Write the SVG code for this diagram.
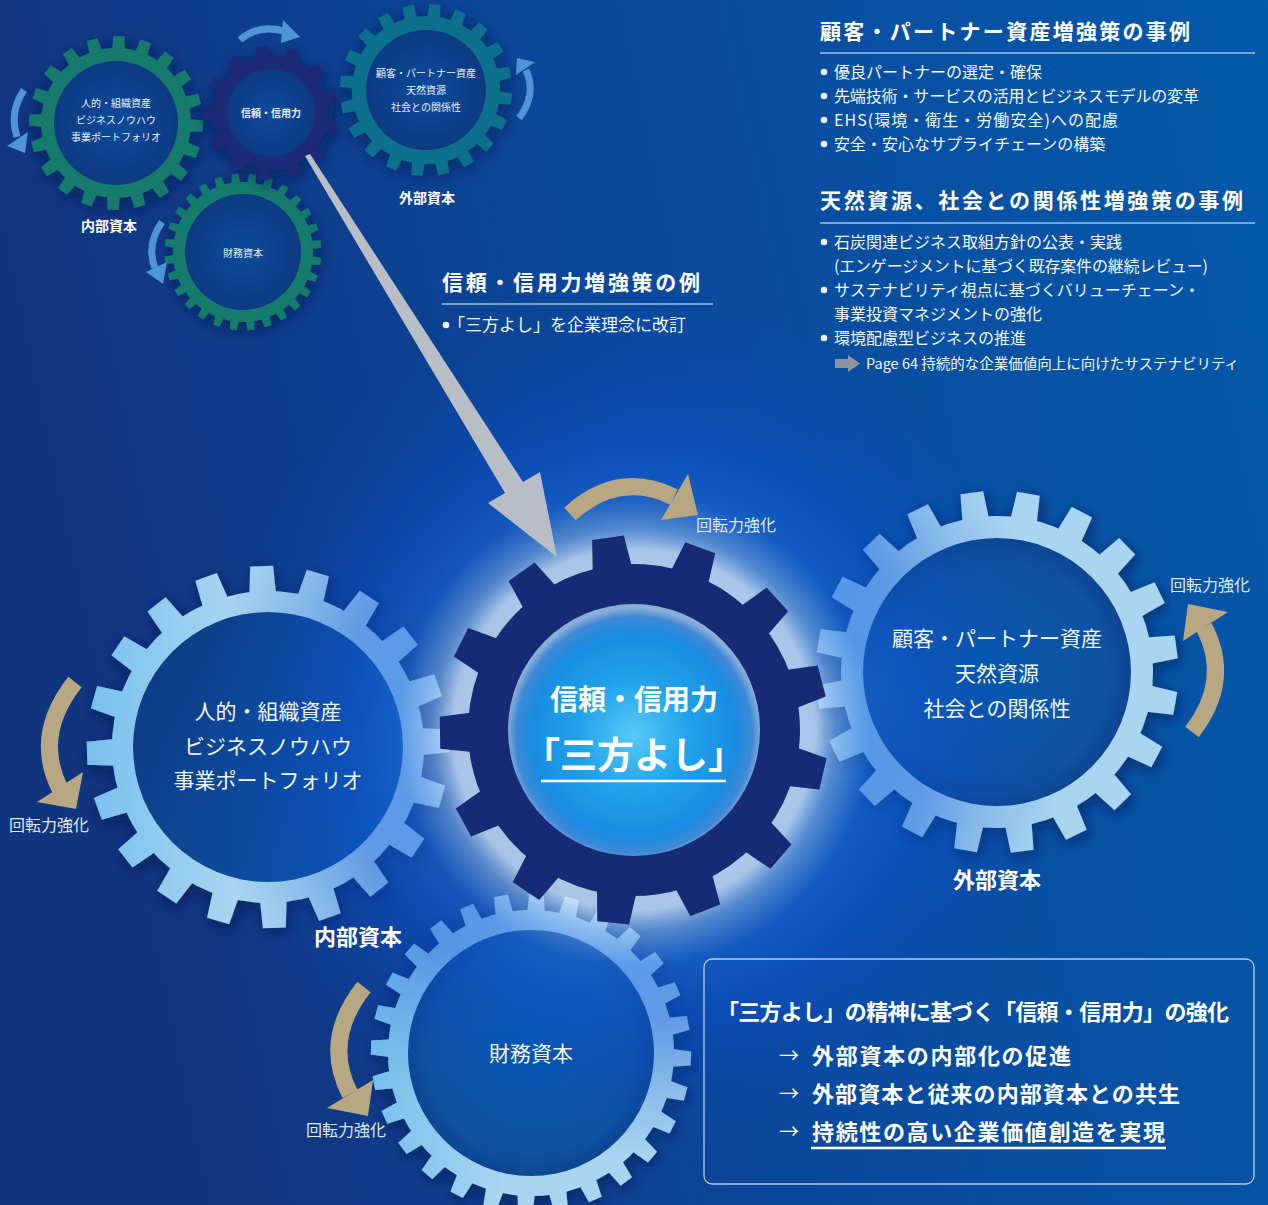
<svg xmlns="http://www.w3.org/2000/svg" xmlns:xlink="http://www.w3.org/1999/xlink" width="1268" height="1205" viewBox="0 0 1268 1205">
<defs>
<style>
text { font-family: "Noto Sans CJK JP", "Noto Sans", sans-serif; fill: #ffffff; }
.b { font-weight: 700; }
.mid { text-anchor: middle; }
.gl { font-size: 21px; fill: #eef5fd; text-anchor: middle; }
.sm { font-size: 10px; fill: #e9f1fb; text-anchor: middle; }
.cap { font-size: 22px; font-weight: 700; text-anchor: middle; }
.capS { font-size: 14px; font-weight: 700; text-anchor: middle; }
.rot { font-size: 16px; fill: #dfe9f6; text-anchor: middle; }
.h { font-size: 21px; font-weight: 700; }
.li { font-size: 16px; fill: #f2f7fd; }
.li17 { font-size: 17px; fill: #f2f7fd; }
.ref { font-size: 14.5px; fill: #f2f7fd; }
.bx { font-size: 22px; font-weight: 700; }
.rule { stroke: #9dbfe6; stroke-width: 1.6; }
.tan { fill: none; stroke: #b7a782; stroke-width: 17; }
.tanh { fill: #b7a782; }
.sky { fill: none; stroke: #4f94d6; stroke-width: 7; }
.skyh { fill: #4f94d6; }
.dot { fill: #f2f7fd; }
</style>

<linearGradient id="bg" x1="0" y1="0.2" x2="1" y2="0">
  <stop offset="0" stop-color="#11347f"/>
  <stop offset="0.5" stop-color="#0a4a9e"/>
  <stop offset="1" stop-color="#0459aa"/>
</linearGradient>
<radialGradient id="glow" gradientUnits="userSpaceOnUse" cx="634" cy="730" r="430">
  <stop offset="0" stop-color="#ffffff" stop-opacity="0.8"/>
  <stop offset="0.42" stop-color="#cfe4fb" stop-opacity="0.8"/>
  <stop offset="0.47" stop-color="#7eb0ee" stop-opacity="0.62"/>
  <stop offset="0.55" stop-color="#1d6ae0" stop-opacity="0.55"/>
  <stop offset="0.68" stop-color="#0c55d6" stop-opacity="0.45"/>
  <stop offset="0.85" stop-color="#0a4fcc" stop-opacity="0.18"/>
  <stop offset="1" stop-color="#0a4fcc" stop-opacity="0"/>
</radialGradient>
<radialGradient id="core" gradientUnits="userSpaceOnUse" cx="634" cy="735" r="127">
  <stop offset="0" stop-color="#58c9f7"/>
  <stop offset="0.45" stop-color="#1fa2ea"/>
  <stop offset="0.8" stop-color="#1a8de2"/>
  <stop offset="0.93" stop-color="#3d88d6"/>
  <stop offset="1" stop-color="#8aaed8"/>
</radialGradient>
<linearGradient id="holeL" x1="0" y1="0" x2="1" y2="0.5">
  <stop offset="0" stop-color="#0c3a7f"/>
  <stop offset="1" stop-color="#0752a8"/>
</linearGradient>
<radialGradient id="holeR" cx="0.5" cy="0.5" r="0.5">
  <stop offset="0" stop-color="#0659ab"/>
  <stop offset="0.85" stop-color="#08519f"/>
  <stop offset="1" stop-color="#0b4590"/>
</radialGradient>
<radialGradient id="holeS" cx="0.5" cy="0.5" r="0.5">
  <stop offset="0" stop-color="#0b4b9c"/>
  <stop offset="1" stop-color="#0b3a82"/>
</radialGradient>
<linearGradient id="lite" x1="0" y1="0" x2="1" y2="0">
  <stop offset="0" stop-color="#4aaeea" stop-opacity="0.55"/>
  <stop offset="0.4" stop-color="#4aaeea" stop-opacity="0"/>
</linearGradient>
<filter id="sh" x="-25%" y="-25%" width="150%" height="150%">
  <feDropShadow dx="2" dy="4" stdDeviation="7" flood-color="#03163f" flood-opacity="0.55"/>
</filter>

<!-- gear silhouettes: rim disc plus rotated teeth, centred on the origin -->
<g id="t20">
  <circle r="156"/>
  <polygon id="p20" points="-13.5,-150 13.5,-150 11.5,-181 -11.5,-181"/>
  <use href="#p20" transform="rotate(18)"/><use href="#p20" transform="rotate(36)"/>
  <use href="#p20" transform="rotate(54)"/><use href="#p20" transform="rotate(72)"/>
  <use href="#p20" transform="rotate(90)"/><use href="#p20" transform="rotate(108)"/>
  <use href="#p20" transform="rotate(126)"/><use href="#p20" transform="rotate(144)"/>
  <use href="#p20" transform="rotate(162)"/><use href="#p20" transform="rotate(180)"/>
  <use href="#p20" transform="rotate(198)"/><use href="#p20" transform="rotate(216)"/>
  <use href="#p20" transform="rotate(234)"/><use href="#p20" transform="rotate(252)"/>
  <use href="#p20" transform="rotate(270)"/><use href="#p20" transform="rotate(288)"/>
  <use href="#p20" transform="rotate(306)"/><use href="#p20" transform="rotate(324)"/>
  <use href="#p20" transform="rotate(342)"/>
</g>
<g id="t13">
  <circle r="166"/>
  <polygon id="p13" points="-20,-160 20,-160 16,-194 -16,-194"/>
  <use href="#p13" transform="rotate(27.69)"/><use href="#p13" transform="rotate(55.38)"/>
  <use href="#p13" transform="rotate(83.08)"/><use href="#p13" transform="rotate(110.77)"/>
  <use href="#p13" transform="rotate(138.46)"/><use href="#p13" transform="rotate(166.15)"/>
  <use href="#p13" transform="rotate(193.85)"/><use href="#p13" transform="rotate(221.54)"/>
  <use href="#p13" transform="rotate(249.23)"/><use href="#p13" transform="rotate(276.92)"/>
  <use href="#p13" transform="rotate(304.62)"/><use href="#p13" transform="rotate(332.31)"/>
</g>
<g id="t28">
  <circle r="143"/>
  <polygon id="p28" points="-9,-139 9,-139 7,-160 -7,-160"/>
  <use href="#p28" transform="rotate(12.857)"/><use href="#p28" transform="rotate(25.714)"/>
  <use href="#p28" transform="rotate(38.571)"/><use href="#p28" transform="rotate(51.429)"/>
  <use href="#p28" transform="rotate(64.286)"/><use href="#p28" transform="rotate(77.143)"/>
  <use href="#p28" transform="rotate(90)"/><use href="#p28" transform="rotate(102.857)"/>
  <use href="#p28" transform="rotate(115.714)"/><use href="#p28" transform="rotate(128.571)"/>
  <use href="#p28" transform="rotate(141.429)"/><use href="#p28" transform="rotate(154.286)"/>
  <use href="#p28" transform="rotate(167.143)"/><use href="#p28" transform="rotate(180)"/>
  <use href="#p28" transform="rotate(192.857)"/><use href="#p28" transform="rotate(205.714)"/>
  <use href="#p28" transform="rotate(218.571)"/><use href="#p28" transform="rotate(231.429)"/>
  <use href="#p28" transform="rotate(244.286)"/><use href="#p28" transform="rotate(257.143)"/>
  <use href="#p28" transform="rotate(270)"/><use href="#p28" transform="rotate(282.857)"/>
  <use href="#p28" transform="rotate(295.714)"/><use href="#p28" transform="rotate(308.571)"/>
  <use href="#p28" transform="rotate(321.429)"/><use href="#p28" transform="rotate(334.286)"/>
  <use href="#p28" transform="rotate(347.143)"/>
</g>

<mask id="mL"><use href="#t20" transform="translate(268,747) rotate(16)" fill="#fff"/></mask>
<mask id="mR"><use href="#t20" transform="translate(997,672) rotate(10)" fill="#fff"/></mask>
<mask id="mB"><use href="#t28" transform="translate(531,1053) rotate(2)" fill="#fff"/></mask>
</defs>

<!-- backdrop -->
<rect width="1268" height="1205" fill="url(#bg)"/>

<!-- small overview gears, top left -->
<g id="mini-internal" filter="url(#sh)">
  <use href="#t20" transform="translate(116,123) scale(0.48) rotate(2)" fill="#127a6d"/>
  <circle cx="116" cy="123" r="62" fill="url(#holeS)"/>
</g>
<g id="mini-finance" filter="url(#sh)">
  <use href="#t28" transform="translate(243,252) scale(0.49) rotate(7)" fill="#127a6d"/>
  <circle cx="243" cy="252" r="58" fill="url(#holeS)"/>
</g>
<g id="mini-trust" filter="url(#sh)">
  <use href="#t13" transform="translate(271,113) scale(0.345) rotate(-7.7)" fill="#1b2a77"/>
  <circle cx="271" cy="113" r="44" fill="url(#holeS)"/>
</g>
<g id="mini-external" filter="url(#sh)">
  <use href="#t20" transform="translate(426,90) scale(0.475) rotate(6)" fill="#0e6f8c"/>
  <circle cx="426" cy="90" r="60" fill="url(#holeS)"/>
</g>

<!-- large gears -->
<g id="gear-internal" filter="url(#sh)">
  <use href="#t20" transform="translate(268,747) rotate(16)" fill="#a9d5f1"/>
  <rect x="80" y="560" width="380" height="380" fill="url(#lite)" mask="url(#mL)"/>
  <circle cx="268" cy="747" r="135" fill="url(#holeL)"/>
</g>
<g id="gear-external" filter="url(#sh)">
  <use href="#t20" transform="translate(997,672) rotate(10)" fill="#a9d5f1"/>
  <rect x="810" y="485" width="380" height="380" fill="url(#lite)" opacity="0.4" mask="url(#mR)"/>
  <circle cx="997" cy="672" r="134" fill="url(#holeR)"/>
</g>
<g id="gear-finance" filter="url(#sh)">
  <use href="#t28" transform="translate(531,1053) rotate(2)" fill="#a9d5f1"/>
  <rect x="365" y="890" width="340" height="330" fill="url(#lite)" mask="url(#mB)"/>
  <circle cx="531" cy="1053" r="123" fill="url(#holeR)"/>
</g>

<!-- halo round the central gear -->
<circle cx="634" cy="730" r="430" fill="url(#glow)"/>

<g id="gear-trust">
  <use href="#t13" transform="translate(634,730) rotate(-7.7)" fill="#172a75"/>
  <circle cx="634" cy="730" r="126" fill="url(#core)"/>
</g>

<!-- connectors: rotation arrows and the pointer arrow -->
<g id="connectors">
  <path class="tan" d="M 570 514 Q 618 470 674 497"/>
  <polygon class="tanh" points="688,474 698,515 661,520"/>
  <path class="tan" d="M 1192 732 Q 1232 680 1204 627"/>
  <polygon class="tanh" points="1188,604 1228,612 1183,641"/>
  <path class="tan" d="M 75 682 Q 33 735 60 789"/>
  <polygon class="tanh" points="37,802 83,772 76,809"/>
  <path class="tan" d="M 364 987 Q 322 1040 350 1094"/>
  <polygon class="tanh" points="327,1108 373,1080 368,1116"/>

  <path class="sky" d="M 240 40 Q 258 24 284 31"/>
  <polygon class="skyh" points="283,20 300,37 281,43"/>
  <path class="sky" d="M 24 90 Q 9 112 17 137"/>
  <polygon class="skyh" points="7,146 28,132 25,153"/>
  <path class="sky" d="M 162 222 Q 146 245 155 268"/>
  <polygon class="skyh" points="146,272 167,262 163,284"/>
  <path class="sky" d="M 519 118 Q 537 95 526 70"/>
  <polygon class="skyh" points="517,58 535,62 516,75"/>

  <polygon fill="#b9bdc6" points="305,156 310,154 523,482 540,472 557,557 488,503 505,493"/>
</g>

<!-- labels of the small gears -->
<g id="mini-labels">
  <text class="sm" x="116" y="106.5">人的・組織資産</text>
  <text class="sm" x="116" y="123.5">ビジネスノウハウ</text>
  <text class="sm" x="116" y="140.5">事業ポートフォリオ</text>
  <text class="sm b" x="271" y="116.5">信頼・信用力</text>
  <text class="sm" x="426" y="76.5">顧客・パートナー資産</text>
  <text class="sm" x="426" y="93.5">天然資源</text>
  <text class="sm" x="426" y="110.5">社会との関係性</text>
  <text class="sm" x="243" y="256.5">財務資本</text>
  <text class="capS" x="109" y="231">内部資本</text>
  <text class="capS" x="427" y="203">外部資本</text>
</g>

<!-- labels of the large gears -->
<g id="gear-labels">
  <text class="gl" x="268" y="719">人的・組織資産</text>
  <text class="gl" x="268" y="754">ビジネスノウハウ</text>
  <text class="gl" x="268" y="788">事業ポートフォリオ</text>
  <text class="gl" x="997" y="646">顧客・パートナー資産</text>
  <text class="gl" x="997" y="681">天然資源</text>
  <text class="gl" x="997" y="716">社会との関係性</text>
  <text class="gl" x="531" y="1061">財務資本</text>
  <text class="cap" x="997" y="888">外部資本</text>
  <text class="cap" x="358" y="945">内部資本</text>
  <text class="b mid" x="634" y="710" font-size="28">信頼・信用力</text>
  <text class="b mid" x="634" y="769" font-size="37">「三方よし」</text>
  <line x1="541" y1="781" x2="726" y2="781" stroke="#ffffff" stroke-width="2.5"/>
  <text class="rot" x="736" y="531">回転力強化</text>
  <text class="rot" x="1210" y="591">回転力強化</text>
  <text class="rot" x="49" y="831">回転力強化</text>
  <text class="rot" x="346" y="1136">回転力強化</text>
</g>

<!-- trust measures -->
<g id="trust-notes">
  <text class="h" x="442" y="290" textLength="258">信頼・信用力増強策の例</text>
  <line class="rule" x1="442" y1="304" x2="713" y2="304"/>
  <circle class="dot" cx="446" cy="325" r="3.3"/>
  <text class="li17" x="448" y="331">「三方よし」を企業理念に改訂</text>
</g>

<!-- external capital measures -->
<g id="external-notes">
  <text class="h" x="820" y="39" textLength="370">顧客・パートナー資産増強策の事例</text>
  <line class="rule" x1="820" y1="53" x2="1255" y2="53"/>
  <circle class="dot" cx="824" cy="72" r="3.3"/>
  <text class="li" x="834" y="78">優良パートナーの選定・確保</text>
  <circle class="dot" cx="824" cy="96" r="3.3"/>
  <text class="li" x="834" y="102" textLength="365">先端技術・サービスの活用とビジネスモデルの変革</text>
  <circle class="dot" cx="824" cy="120" r="3.3"/>
  <text class="li" x="834" y="126" textLength="284">EHS(環境・衛生・労働安全)への配慮</text>
  <circle class="dot" cx="824" cy="144" r="3.3"/>
  <text class="li" x="834" y="150">安全・安心なサプライチェーンの構築</text>

  <text class="h" x="820" y="208" textLength="423">天然資源、社会との関係性増強策の事例</text>
  <line class="rule" x1="820" y1="223" x2="1255" y2="223"/>
  <circle class="dot" cx="824" cy="242" r="3.3"/>
  <text class="li" x="834" y="248">石炭関連ビジネス取組方針の公表・実践</text>
  <text class="li" x="834" y="272" textLength="374">(エンゲージメントに基づく既存案件の継続レビュー)</text>
  <circle class="dot" cx="824" cy="290" r="3.3"/>
  <text class="li" x="834" y="296">サステナビリティ視点に基づくバリューチェーン・</text>
  <text class="li" x="834" y="320">事業投資マネジメントの強化</text>
  <circle class="dot" cx="824" cy="338" r="3.3"/>
  <text class="li" x="834" y="344">環境配慮型ビジネスの推進</text>
  <polygon fill="#8e959e" points="835,359 848,359 848,355 860,363.5 848,372 848,368 835,368"/>
  <text class="ref" x="866" y="369">Page 64 持続的な企業価値向上に向けたサステナビリティ</text>
</g>

<!-- summary box -->
<g id="summary">
  <rect x="704" y="959" width="550" height="225" rx="8" fill="none" stroke="#b4cdea" stroke-width="1.3"/>
  <text class="bx" x="717" y="1020" textLength="512">「三方よし」の精神に基づく「信頼・信用力」の強化</text>
  <text x="779" y="1063" font-size="20">→</text>
  <text class="bx" x="812" y="1064" textLength="259">外部資本の内部化の促進</text>
  <text x="779" y="1101" font-size="20">→</text>
  <text class="bx" x="812" y="1102" textLength="368">外部資本と従来の内部資本との共生</text>
  <text x="779" y="1139" font-size="20">→</text>
  <text class="bx" x="812" y="1140" textLength="353">持続性の高い企業価値創造を実現</text>
  <line x1="811" y1="1148" x2="1166" y2="1148" stroke="#ffffff" stroke-width="2.5"/>
</g>
</svg>
